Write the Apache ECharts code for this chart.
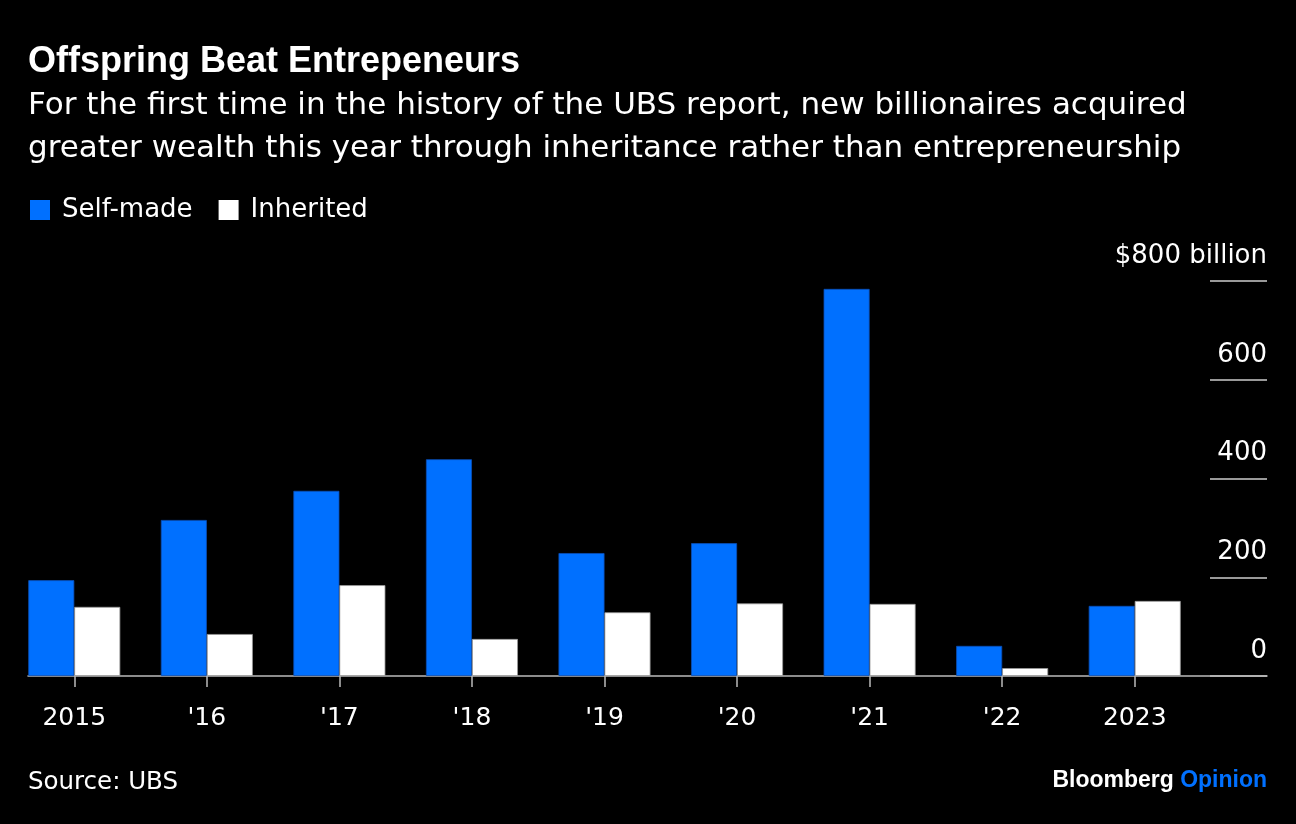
<!DOCTYPE html>
<html>
<head>
<meta charset="utf-8">
<script src="https://cdn.jsdelivr.net/npm/echarts@6/dist/echarts.min.js"></script>
<style>
html,body{margin:0;padding:0;background:#000;}
#chart{width:1296px;height:824px;}
</style>
</head>
<body>
<div id="chart"></div>
<script>
const categories = ['2015', "'16", "'17", "'18", "'19", "'20", "'21", "'22", '2023'];
const selfMade = [194, 316, 375, 439, 249, 269, 784, 61, 142];
const inherited = [140, 85, 184, 75, 129, 147, 146, 16, 152];
const yTicks = [0, 200, 400, 600, 800];

const BOLD = '"Liberation Sans", Arial, Helvetica, sans-serif';
const FONT = '"DejaVu Sans", "Liberation Sans", Arial, sans-serif';
const BLUE = '#0070ff';

const chart = echarts.init(document.getElementById('chart'));
chart.setOption({
  backgroundColor: '#000',
  animation: false,
  textStyle: { fontFamily: FONT },
  title: [
    {
      text: 'Offspring Beat Entrepeneurs',
      left: 28, top: 44, padding: 0,
      textStyle: { color: '#fff', fontSize: 36, fontWeight: 'bold', fontFamily: BOLD }
    },
    {
      text: 'For the first time in the history of the UBS report, new billionaires acquired\ngreater wealth this year through inheritance rather than entrepreneurship',
      left: 28, top: 84, padding: 0,
      textStyle: { color: '#fff', fontSize: 31, fontWeight: 'normal', lineHeight: 43, fontFamily: FONT }
    },
    {
      text: 'Source: UBS',
      left: 28, top: 770, padding: 0,
      textStyle: { color: '#fff', fontSize: 24.5, fontWeight: 'normal', fontFamily: FONT }
    },
    {
      text: '{a|Bloomberg} {b|Opinion}',
      right: 29, top: 769, padding: 0,
      textStyle: {
        rich: {
          a: { color: '#fff', fontSize: 23, fontWeight: 'bold', fontFamily: BOLD },
          b: { color: BLUE, fontSize: 23, fontWeight: 'bold', fontFamily: BOLD }
        }
      }
    }
  ],
  legend: {
    left: 30, top: 197, padding: 0,
    icon: 'rect',
    itemWidth: 20, itemHeight: 20,
    itemGap: 26,
    itemStyle: { borderWidth: 0 },
    textStyle: { color: '#fff', fontSize: 26, fontFamily: FONT, padding: [0, 0, 0, 7] },
    data: ['Self-made', 'Inherited']
  },
  grid: [
    { left: 8, right: 95, top: 281, bottom: 148 },
    { left: 28, right: 29, top: 281, bottom: 148 },
    { left: 1210, right: 29, top: 281, bottom: 148 }
  ],
  xAxis: [
    {
      type: 'category', gridIndex: 0, data: categories,
      axisLine: { show: false },
      axisTick: { show: true, alignWithLabel: true, length: 11, lineStyle: { color: '#bbb', width: 1.5 } },
      axisLabel: { color: '#fff', fontSize: 25, margin: 30, fontFamily: FONT }
    },
    {
      type: 'value', gridIndex: 1, min: 0, max: 1,
      axisLine: { show: true, onZero: false, lineStyle: { color: '#bbb', width: 1.5 } },
      axisTick: { show: false }, axisLabel: { show: false }, splitLine: { show: false }
    },
    {
      type: 'value', gridIndex: 2, min: 0, max: 1, show: false
    }
  ],
  yAxis: [
    { type: 'value', gridIndex: 0, min: 0, max: 800, show: false },
    { type: 'value', gridIndex: 1, min: 0, max: 800, show: false },
    {
      type: 'value', gridIndex: 2, min: 0, max: 800, interval: 200, position: 'right',
      axisLine: { show: false }, axisTick: { show: false },
      splitLine: { show: true, lineStyle: { color: '#ccc', width: 1.5 } },
      axisLabel: {
        inside: true, color: '#fff', fontSize: 26, fontFamily: FONT,
        verticalAlign: 'bottom', align: 'right', margin: 0, padding: [0, 0, 12, 0],
        formatter: v => (v === 800 ? '$800 billion' : String(v))
      }
    }
  ],
  series: [
    {
      name: 'Self-made', type: 'bar', xAxisIndex: 0, yAxisIndex: 0,
      data: selfMade, barWidth: 46, barGap: '0%',
      itemStyle: { color: BLUE, borderColor: '#0a4fb8', borderWidth: 0.8 }
    },
    {
      name: 'Inherited', type: 'bar', xAxisIndex: 0, yAxisIndex: 0,
      data: inherited, barWidth: 46, barGap: '0%',
      itemStyle: { color: '#fff', borderColor: '#999', borderWidth: 0.8 }
    }
  ]
});
</script>
</body>
</html>
